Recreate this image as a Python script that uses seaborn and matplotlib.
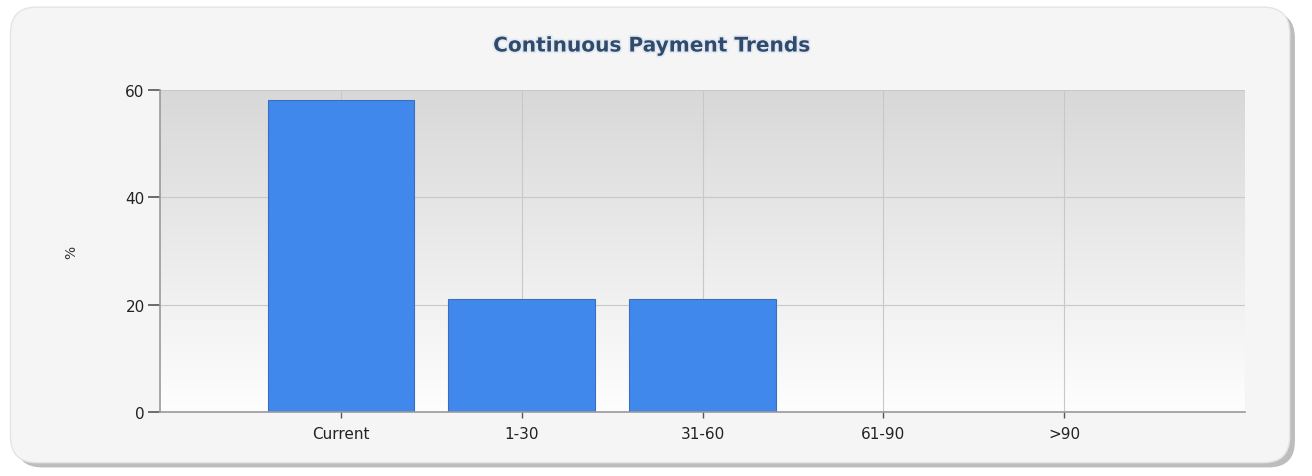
import numpy as np
import pandas as pd
import matplotlib
matplotlib.use("Agg")
import matplotlib.pyplot as plt
import seaborn as sns
from matplotlib.patches import FancyBboxPatch
import matplotlib.patheffects as pe

categories = ["Current", "1-30", "31-60", "61-90", ">90"]
values = [58.1, 21.0, 21.0, 0.0, 0.0]
yticks = [0, 20, 40, 60]

sns.set_theme(style="white")
plt.rcParams['font.family'] = ['DejaVu Sans']

fig = plt.figure(figsize=(13.12, 4.77), dpi=100)
fig.patch.set_facecolor("white")

# rounded panel with shadow
shadow = FancyBboxPatch((0.012, 0.018), 0.975, 0.955,
                        boxstyle="round,pad=0,rounding_size=0.02",
                        transform=fig.transFigure, facecolor="#bdbdbd",
                        edgecolor="none", zorder=-3, mutation_aspect=2.75)
fig.patches.append(shadow)
panel = FancyBboxPatch((0.008, 0.028), 0.975, 0.955,
                       boxstyle="round,pad=0,rounding_size=0.02",
                       transform=fig.transFigure, facecolor="#f5f5f5",
                       edgecolor="#e4e4e4", linewidth=1, zorder=-2,
                       mutation_aspect=2.75)
fig.patches.append(panel)

ax = fig.add_axes([160/1312, 1-413/477, (1245-160)/1312, (413-91)/477])
ax.set_facecolor("none")

df = pd.DataFrame({"cat": categories, "val": values})
sns.barplot(data=df, x="cat", y="val", order=categories, color="#4188ec",
            saturation=1, width=0.81, edgecolor="#3a6fbf", linewidth=0.8,
            ax=ax, zorder=3)

ax.set_xlim(-1, len(categories))
ax.set_ylim(0, 60)

# gradient background
grad = np.linspace(0, 1, 256).reshape(-1, 1)
cmap = matplotlib.colors.LinearSegmentedColormap.from_list("g", ["#fefefe", "#d8d8d8"])
ax.imshow(grad, extent=[-1, len(categories), 0, 60], origin="lower",
          aspect="auto", cmap=cmap, zorder=0)

ax.set_yticks(yticks)
ax.set_yticklabels([str(t) for t in yticks], fontsize=11, color="#222222")
ax.set_xticks(range(len(categories)))
ax.set_xticklabels(categories, fontsize=11, color="#222222")
ax.grid(True, color="#c8c8c8", linewidth=0.8, zorder=1)
ax.set_axisbelow(True)
ax.axvline(len(categories), color="#d0d0d0", linewidth=0.8, linestyle=":", zorder=1)

for s in ["top", "right"]:
    ax.spines[s].set_visible(False)
for s in ["left", "bottom"]:
    ax.spines[s].set_color("#999999")
    ax.spines[s].set_linewidth(1.2)
    ax.spines[s].set_zorder(4)

ax.tick_params(axis="y", length=9, width=1.2, color="#555555", direction="out", pad=2, left=True)
ax.tick_params(axis="x", length=4, width=1.0, color="#555555", direction="out", pad=6, bottom=True)

ax.set_xlabel("")
ax.set_ylabel("%", fontsize=10, color="#333333", labelpad=34)

fig.text(0.497, 1 - 47/477, "Continuous Payment Trends", ha="center", va="center",
         fontsize=14.5, fontweight="bold", color="#2f4a6b",
         path_effects=[pe.withStroke(linewidth=2.5, foreground="#e2e9f2")])

fig.savefig("out.png", dpi=100)
